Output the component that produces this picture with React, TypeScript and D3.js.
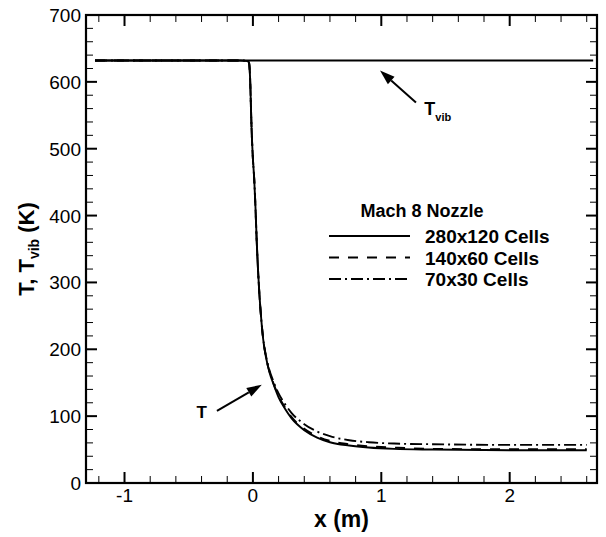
import { useEffect, useRef } from 'react';
import * as d3 from 'd3';

// x positions (m) shared by all three grids
const xData = [-1.23, -0.1, -0.04, -0.03, -0.025, -0.02, -0.015, -0.01, 0, 0.01, 0.02, 0.03, 0.04, 0.05, 0.065, 0.08, 0.1, 0.13, 0.16, 0.2, 0.25, 0.3, 0.4, 0.5, 0.6, 0.75, 0.9, 1.1, 1.4, 2.0, 2.6];
const tFine = [632, 632, 631, 628, 618, 595, 560, 528, 485, 455, 412, 360, 318, 284, 245, 215, 190, 165, 148, 128, 111, 97, 79, 68, 61, 56, 53, 51, 50, 49, 49];
const tMedium = [632, 632, 631, 628, 618, 595, 560, 528, 485, 455, 412, 360, 318, 284, 245, 215, 190, 166, 149, 130, 113, 99, 81, 70, 63, 58, 55, 53, 51, 50.5, 50.5];
const tCoarse = [632, 632, 631, 628, 618, 595, 560, 528, 485, 455, 412, 360, 318, 284, 245, 216, 192, 168, 152, 134, 118, 105, 88, 77, 70, 64, 61, 59, 58, 57, 57];

const xVib = [-1.23, 2.65];
const tVib = [632, 632];

const seriesNames = ['280x120 Cells', '140x60 Cells', '70x30 Cells'];
const legendTitle = 'Mach 8 Nozzle';

const xTicks = [-1, 0, 1, 2];
const yTicks = [0, 100, 200, 300, 400, 500, 600, 700];

const dashes = [null, '10,9', '12,4,2,4'];

export default function App() {
  const svgRef = useRef<SVGSVGElement>(null);

  useEffect(() => {
    if (!svgRef.current) return;
    const W = 606, H = 537;
    const margin = { top: 15, right: 9, bottom: 54, left: 86 };
    const font = '"Liberation Sans", Arial, Helvetica, sans-serif';

    const svg = d3.select(svgRef.current);
    svg.selectAll('*').remove();
    svg.attr('width', W).attr('height', H);

    const x = d3.scaleLinear().domain([-1.3, 2.68]).range([margin.left, W - margin.right]);
    const y = d3.scaleLinear().domain([0, 700]).range([H - margin.bottom, margin.top]);

    const x0 = margin.left, x1 = W - margin.right;
    const y0 = H - margin.bottom, y1 = margin.top;

    // ticks, inward on all four sides
    const g = svg.append('g');
    const xMinor = d3.range(-1.2, 2.61, 0.2).filter(v => Math.abs(v - Math.round(v)) > 0.01);
    const yMinor = d3.range(20, 700, 20).filter(v => v % 100 !== 0);
    const tick = (xa: number, ya: number, xb: number, yb: number, w: number) =>
      g.append('line').attr('x1', xa).attr('y1', ya).attr('x2', xb).attr('y2', yb)
        .attr('stroke', '#000').attr('stroke-width', w);

    xTicks.forEach(v => { tick(x(v), y0, x(v), y0 - 11, 2); tick(x(v), y1, x(v), y1 + 11, 2); });
    xMinor.forEach(v => { tick(x(v), y0, x(v), y0 - 7, 1); tick(x(v), y1, x(v), y1 + 7, 1); });
    yTicks.forEach(v => { tick(x0, y(v), x0 + 11, y(v), 2); tick(x1, y(v), x1 - 11, y(v), 2); });
    yMinor.forEach(v => { tick(x0, y(v), x0 + 7, y(v), 1); tick(x1, y(v), x1 - 7, y(v), 1); });

    // tick labels
    xTicks.forEach(v => {
      svg.append('text').attr('x', x(v)).attr('y', y0 + 19)
        .attr('text-anchor', 'middle').attr('font-family', font).attr('font-size', 19)
        .text(v < 0 ? '-' + Math.abs(v) : String(v));
    });
    yTicks.forEach(v => {
      svg.append('text').attr('x', x0 - 5).attr('y', y(v) + 7)
        .attr('text-anchor', 'end').attr('font-family', font).attr('font-size', 19)
        .text(String(v));
    });

    // axis titles
    svg.append('text').attr('x', (x0 + x1) / 2).attr('y', 527)
      .attr('text-anchor', 'middle').attr('font-family', font).attr('font-size', 23)
      .attr('font-weight', 'bold').text('x (m)');

    const yl = svg.append('text')
      .attr('transform', `translate(34,${(y0 + y1) / 2}) rotate(-90)`)
      .attr('text-anchor', 'middle').attr('font-family', font).attr('font-size', 22)
      .attr('font-weight', 'bold');
    yl.append('tspan').text('T, T');
    yl.append('tspan').attr('font-size', 14).attr('dy', 5).text('vib');
    yl.append('tspan').attr('dy', -5).text(' (K)');

    // curves
    const line = d3.line<[number, number]>()
      .x(d => x(d[0])).y(d => y(d[1]))
      .curve(d3.curveMonotoneX);

    const series = [tFine, tMedium, tCoarse];
    [2, 1, 0].forEach(i => {
      svg.append('path')
        .datum(xData.map((v, j) => [v, series[i][j]] as [number, number]))
        .attr('d', line)
        .attr('fill', 'none').attr('stroke', '#000').attr('stroke-width', 1.9)
        .attr('stroke-dasharray', dashes[i]);
    });
    svg.append('path')
      .datum(xVib.map((v, j) => [v, tVib[j]] as [number, number]))
      .attr('d', line)
      .attr('fill', 'none').attr('stroke', '#000').attr('stroke-width', 1.9);

    // frame
    svg.append('rect').attr('x', x0).attr('y', y1).attr('width', x1 - x0).attr('height', y0 - y1)
      .attr('fill', 'none').attr('stroke', '#000').attr('stroke-width', 2.2);

    // legend
    const lg = svg.append('g').attr('font-family', font).attr('font-weight', 'bold');
    lg.append('text').attr('x', 422).attr('y', 217).attr('text-anchor', 'middle')
      .attr('font-size', 18).text(legendTitle);
    seriesNames.forEach((name, i) => {
      const ly = 236 + i * 21.5;
      lg.append('line').attr('x1', 329).attr('x2', 410).attr('y1', ly).attr('y2', ly)
        .attr('stroke', '#000').attr('stroke-width', 1.9).attr('stroke-dasharray', dashes[i]);
      lg.append('text').attr('x', 425).attr('y', ly + 7).attr('font-size', 19).text(name);
    });

    // annotation arrows
    const arrow = (xa: number, ya: number, xb: number, yb: number) => {
      const ax = x(xa), ay = y(ya), bx = x(xb), by = y(yb);
      const ang = Math.atan2(by - ay, bx - ax);
      const len = 15, hw = 5;
      const hx = bx - len * Math.cos(ang), hy = by - len * Math.sin(ang);
      svg.append('line').attr('x1', ax).attr('y1', ay).attr('x2', hx).attr('y2', hy)
        .attr('stroke', '#000').attr('stroke-width', 2);
      svg.append('path')
        .attr('d', `M${bx},${by}L${hx - hw * Math.sin(ang)},${hy + hw * Math.cos(ang)}L${hx + hw * Math.sin(ang)},${hy - hw * Math.cos(ang)}Z`)
        .attr('fill', '#000');
    };
    arrow(-0.28, 108, 0.069, 147);
    arrow(1.27, 569, 0.99, 617);

    svg.append('text').attr('x', x(-0.44)).attr('y', y(97))
      .attr('font-family', font).attr('font-size', 17).attr('font-weight', 'bold').text('T');
    const tv = svg.append('text').attr('x', x(1.335)).attr('y', y(551))
      .attr('font-family', font).attr('font-size', 18).attr('font-weight', 'bold');
    tv.append('tspan').text('T');
    tv.append('tspan').attr('font-size', 11).attr('dy', 6).text('vib');
  }, []);

  return (
    <svg ref={svgRef} style={{ position: 'absolute', left: 0, top: 0, display: 'block', background: '#fff' }} />
  );
}
